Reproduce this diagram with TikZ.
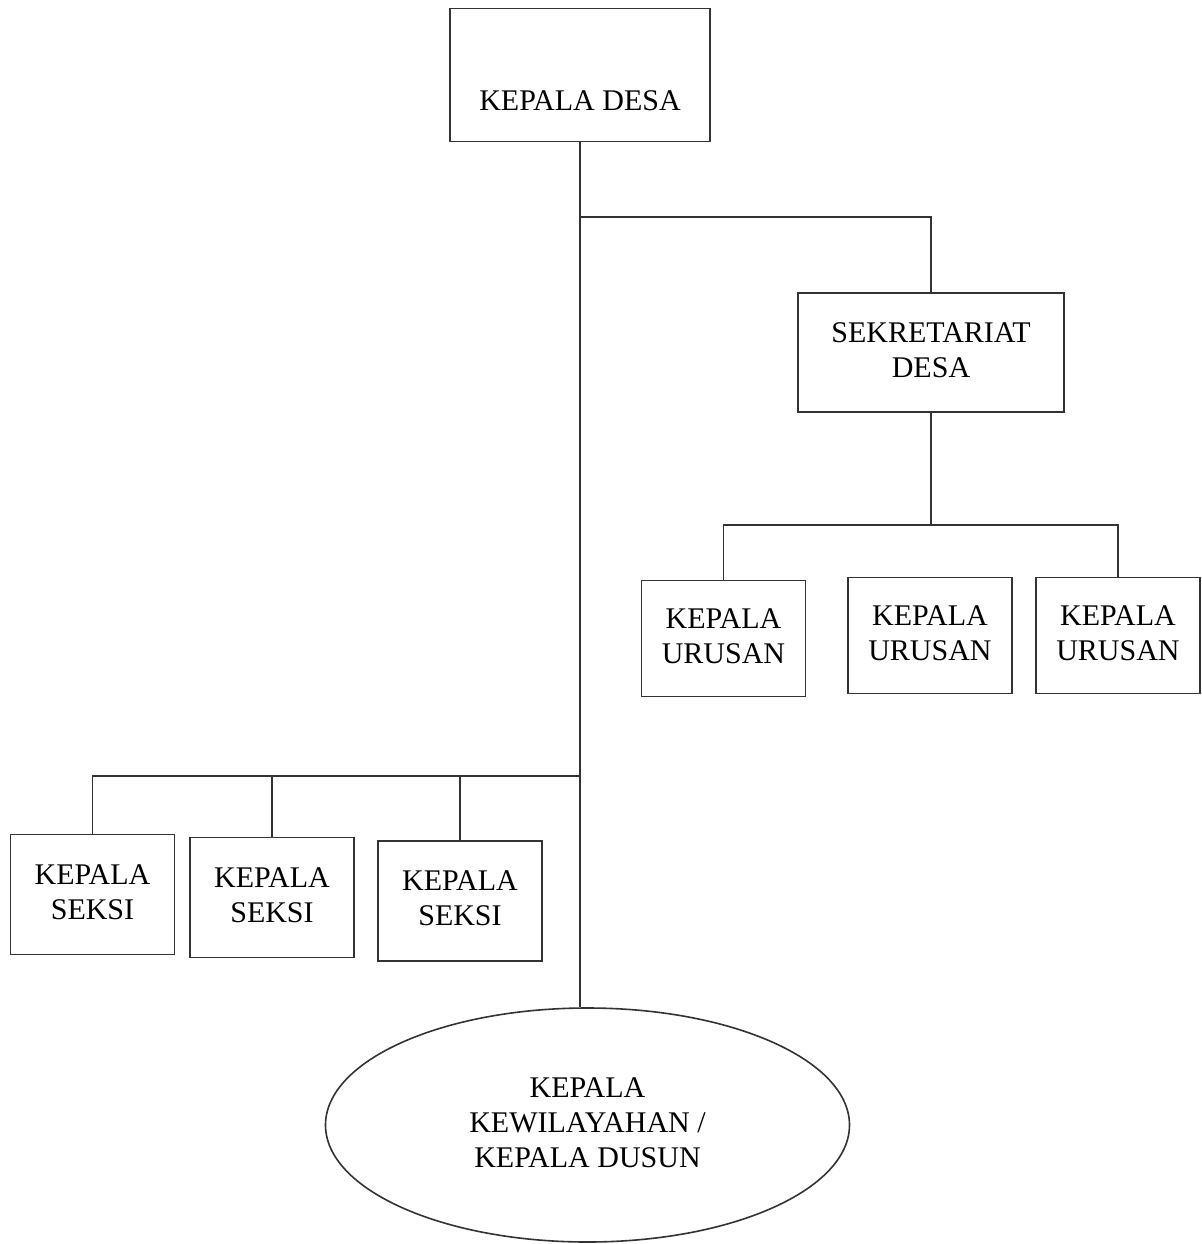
\documentclass[tikz,border=0pt]{standalone}
\usepackage{fontspec}
\setmainfont{Liberation Serif}
\usetikzlibrary{shapes.geometric}

\tikzset{
  kotak/.style={draw=black!80, line width=0.8pt, inner sep=0pt,
    minimum width=82pt, minimum height=58pt,
    font=\fontsize{15}{17.5}\selectfont},
  garis/.style={draw=black!80, line width=0.8pt},
}

\begin{document}
\begin{tikzpicture}
\useasboundingbox (0pt,0pt) rectangle (601pt,-622pt);

%% Kepala Desa %%%%%%%%%%%%%%%%%%%%%%%
\node (desa) at (290pt,-37.5pt) [kotak, minimum width=130pt, minimum height=66.5pt]{
  \begin{tabular}{c}
    \raisebox{-14pt}[\height][\depth]{KEPALA DESA}
  \end{tabular}};

%% Sekretariat
\node (sekdes) at (465.5pt,-176.25pt) [kotak, minimum width=133pt, minimum height=59.5pt]{
  \begin{tabular}{c}
    SEKRETARIAT\\ DESA
  \end{tabular}};

%% Urusan %%%%%%%%%%%%%%%%%%%%%%%%%%%%%
\node (urusan1) at (361.75pt,-319.25pt) [kotak]{
  \begin{tabular}{c}
    KEPALA\\ URUSAN
  \end{tabular}};

\node (urusan2) at (465pt,-317.75pt) [kotak]{
  \begin{tabular}{c}
    KEPALA\\ URUSAN
  \end{tabular}};

\node (urusan3) at (559pt,-317.75pt) [kotak]{
  \begin{tabular}{c}
    KEPALA\\ URUSAN
  \end{tabular}};

%% Seksi %%%%%%%%%%%%%%%%%%%%%%%%%%%%%%
\node (seksi1) at (46.25pt,-447.25pt) [kotak, minimum height=60pt]{
  \begin{tabular}{c}
    KEPALA\\ SEKSI
  \end{tabular}};

\node (seksi2) at (136pt,-448.75pt) [kotak, minimum height=60pt]{
  \begin{tabular}{c}
    KEPALA\\ SEKSI
  \end{tabular}};

\node (seksi3) at (230pt,-450.5pt) [kotak, minimum height=60pt]{
  \begin{tabular}{c}
    KEPALA\\ SEKSI
  \end{tabular}};

%% Dusun
\node (dusun) at (293.75pt,-562.5pt) [kotak, ellipse, minimum width=262pt, minimum height=117pt]{
  \begin{tabular}{c}
    KEPALA\\ KEWILAYAHAN /\\ KEPALA DUSUN
  \end{tabular}};

%% Garis %%%%%%%%%%%%%%%%%%%%%%%%%%%%%%
\coordinate (cabang) at (290pt,-108.5pt);
\coordinate (bagiurusan) at (465.5pt,-262.5pt);
\coordinate (bagiseksi) at (290pt,-388pt);

\draw[garis] (desa.south) -- (desa.south |- dusun.north);
\draw[garis] (cabang) -| (sekdes.north);
\draw[garis] (sekdes.south) -- (bagiurusan);
\draw[garis] (urusan1.north) |- (bagiurusan) -| (urusan3.north);
\draw[garis] (bagiseksi) -| (seksi1.north);
\draw[garis] (seksi2.north) -- (seksi2.north |- bagiseksi);
\draw[garis] (seksi3.north) -- (seksi3.north |- bagiseksi);

\end{tikzpicture}
\end{document}
